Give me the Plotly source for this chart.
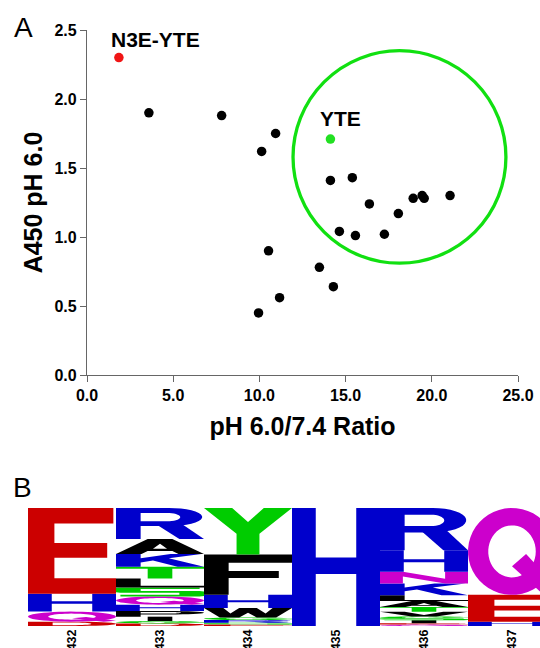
import numpy as np
import plotly.graph_objects as go

# ---------------- Panel A data ----------------
ratio_black = [3.59, 7.81, 10.13, 10.94, 10.53, 11.17, 9.95, 13.48, 14.29,
               14.12, 15.39, 14.64, 15.57, 16.38, 17.25, 18.06, 18.92, 19.44, 19.56, 21.06]
a450_black = [1.90, 1.88, 1.62, 1.75, 0.90, 0.56, 0.45, 0.78, 0.64,
              1.41, 1.43, 1.04, 1.01, 1.24, 1.02, 1.17, 1.28, 1.30, 1.28, 1.30]
ratio_n3e = [1.85]
a450_n3e = [2.30]
ratio_yte = [14.12]
a450_yte = [1.71]
label_names = ["N3E-YTE", "YTE"]
label_x = [4.0, 14.7]
label_y = [2.43, 1.86]
circle_x = [11.95, 24.3]
circle_y = [0.81, 2.35]

x_ticks = [0, 5, 10, 15, 20, 25]
y_ticks = [0, 0.5, 1.0, 1.5, 2.0, 2.5]

# ---------------- Panel B data (sequence logo, bottom -> top) ----------------
positions = [432, 433, 434, 435, 436, 437]
col432_letters = ["D", "Q", "H", "E"]
col432_probs = [0.037, 0.085, 0.152, 0.726]
col433_letters = ["D", "G", "I", "P", "H", "Q", "S", "L", "T", "K", "A", "R"]
col433_probs = [0.022, 0.020, 0.037, 0.048, 0.054, 0.070, 0.076, 0.076, 0.100, 0.107, 0.127, 0.263]
col434_letters = ["E", "S", "R", "G", "W", "H", "F", "Y"]
col434_probs = [0.012, 0.016, 0.022, 0.023, 0.079, 0.113, 0.340, 0.395]
col435_letters = ["H"]
col435_probs = [1.0]
col436_letters = ["Q", "E", "I", "S", "G", "V", "T", "A", "L", "K", "N", "H", "R"]
col436_probs = [0.012, 0.012, 0.025, 0.016, 0.016, 0.040, 0.040, 0.050, 0.050, 0.099, 0.099, 0.184, 0.357]
col437_letters = ["H", "E", "Q"]
col437_probs = [0.037, 0.227, 0.736]

columns = [
    (positions[0], col432_letters, col432_probs),
    (positions[1], col433_letters, col433_probs),
    (positions[2], col434_letters, col434_probs),
    (positions[3], col435_letters, col435_probs),
    (positions[4], col436_letters, col436_probs),
    (positions[5], col437_letters, col437_probs),
]

LETTER_COLORS = {}
for c in "DE":
    LETTER_COLORS[c] = "#cc0000"
for c in "KRH":
    LETTER_COLORS[c] = "#0000cc"
for c in "NQ":
    LETTER_COLORS[c] = "#cc00cc"
for c in "GSTYC":
    LETTER_COLORS[c] = "#00cc00"
for c in "AVLIPWFM":
    LETTER_COLORS[c] = "#000000"


# ---------------- glyph outlines in a unit box ----------------
def ell(cx, cy, rx, ry, a0, a1, n=18):
    t = np.radians(np.linspace(a0, a1, n))
    return [(cx + rx * np.cos(a), cy + ry * np.sin(a)) for a in t]


GLYPHS = {
    "E": [[[(0, 0), (1, 0), (1, .18), (.3, .18), (.3, .42), (.9, .42), (.9, .59), (.3, .59),
            (.3, .82), (.97, .82), (.97, 1), (0, 1)]]],
    "H": [[[(0, 0), (.27, 0), (.27, .44), (.73, .44), (.73, 0), (1, 0), (1, 1), (.73, 1),
            (.73, .58), (.27, .58), (.27, 1), (0, 1)]]],
    "F": [[[(0, 0), (.28, 0), (.28, .42), (.85, .42), (.85, .59), (.28, .59), (.28, .8),
            (1, .8), (1, 1), (0, 1)]]],
    "T": [[[(.36, 0), (.64, 0), (.64, .82), (1, .82), (1, 1), (0, 1), (0, .82), (.36, .82)]]],
    "L": [[[(0, 0), (1, 0), (1, .18), (.28, .18), (.28, 1), (0, 1)]]],
    "I": [[[(.36, 0), (.64, 0), (.64, 1), (.36, 1)]]],
    "Y": [[[(.37, 0), (.63, 0), (.63, .45), (1, 1), (.68, 1), (.5, .7), (.32, 1), (0, 1), (.37, .45)]]],
    "K": [[[(0, 0), (.28, 0), (.28, .33), (.42, .48), (.7, 0), (1, 0), (.6, .66), (.97, 1),
            (.62, 1), (.28, .66), (.28, 1), (0, 1)]]],
    "N": [[[(0, 0), (.26, 0), (.26, .6), (.74, 0), (1, 0), (1, 1), (.74, 1), (.74, .4), (.26, 1), (0, 1)]]],
    "A": [[[(0, 0), (.29, 0), (.36, .2), (.64, .2), (.71, 0), (1, 0), (.64, 1), (.36, 1)],
           [(.42, .36), (.58, .36), (.5, .68)]]],
    "W": [[[(0, 1), (.18, 0), (.4, 0), (.5, .5), (.6, 0), (.82, 0), (1, 1), (.78, 1), (.7, .42),
            (.6, 1), (.4, 1), (.3, .42), (.22, 1)]]],
    "V": [[[(0, 1), (.36, 0), (.64, 0), (1, 1), (.72, 1), (.5, .32), (.28, 1)]]],
    "M": [[[(0, 0), (.24, 0), (.24, .65), (.42, 0), (.58, 0), (.76, .65), (.76, 0), (1, 0), (1, 1),
            (.68, 1), (.5, .38), (.32, 1), (0, 1)]]],
    "S": [[[(.05, 0), (.95, 0), (1, .05), (1, .55), (.95, .6), (.28, .6), (.28, .82), (.95, .82),
            (.95, 1), (.05, 1), (0, .95), (0, .45), (.05, .4), (.72, .4), (.72, .18), (.05, .18)]]],
    "R": [[[(0, 0), (.28, 0), (.28, .42), (.6, .42)] + ell(.6, .71, .38, .29, -90, 90) + [(0, 1)],
           [(.28, .57), (.58, .57)] + ell(.58, .705, .15, .135, -90, 90) + [(.28, .84)]],
          [[(.46, .47), (.72, 0), (1, 0), (.74, .5)]]],
    "P": [[[(0, 0), (.28, 0), (.28, .4), (.62, .4)] + ell(.62, .7, .38, .3, -90, 90) + [(0, 1)],
           [(.28, .56), (.6, .56)] + ell(.6, .7, .14, .14, -90, 90) + [(.28, .84)]]],
    "D": [[[(0, 0), (.52, 0)] + ell(.52, .5, .48, .5, -90, 90) + [(0, 1)],
           [(.28, .18), (.5, .18)] + ell(.5, .5, .22, .32, -90, 90) + [(.28, .82)]]],
    "Q": [[ell(.5, .5, .5, .5, 0, 360, 48), ell(.5, .5, .27, .3, 0, 360, 48)],
          [[(.5, .33), (.66, .47), (1, .1), (.86, 0)]]],
    "G": [[ell(.5, .5, .5, .5, 25, 335, 30) + ell(.5, .5, .25, .28, 335, 25, 30)],
          [[(.55, .32), (1, .32), (1, .5), (.55, .5)]]],
}

shapes = []
for pos, letters, probs in columns:
    y0 = 0.0
    for letter, p in zip(letters, probs):
        for rings in GLYPHS[letter]:
            path = ""
            for ring in rings:
                pts = [(pos - 0.5 + gx, y0 + gy * p) for gx, gy in ring]
                path += "M" + "L".join(f"{x:.4f},{y:.5f}" for x, y in pts) + "Z"
            shapes.append(dict(type="path", path=path, xref="x2", yref="y2",
                               fillcolor=LETTER_COLORS[letter], line=dict(width=0),
                               fillrule="evenodd", layer="above"))
        y0 += p

shapes.append(dict(type="circle", xref="x", yref="y",
                   x0=circle_x[0], x1=circle_x[1], y0=circle_y[0], y1=circle_y[1],
                   line=dict(color="#11e011", width=3.3), fillcolor="rgba(0,0,0,0)"))

FONT = "Liberation Sans, Arial, sans-serif"

fig = go.Figure()
fig.add_trace(go.Scatter(x=ratio_black, y=a450_black, mode="markers",
                         marker=dict(color="black", size=9.5), xaxis="x", yaxis="y",
                         showlegend=False))
fig.add_trace(go.Scatter(x=ratio_n3e, y=a450_n3e, mode="markers",
                         marker=dict(color="#f01515", size=9.5), xaxis="x", yaxis="y",
                         showlegend=False))
fig.add_trace(go.Scatter(x=ratio_yte, y=a450_yte, mode="markers",
                         marker=dict(color="#22e022", size=9.5), xaxis="x", yaxis="y",
                         showlegend=False))
fig.add_trace(go.Scatter(x=positions, y=[0.5] * len(positions), mode="markers",
                         marker=dict(opacity=0), xaxis="x2", yaxis="y2",
                         showlegend=False, hoverinfo="skip"))

annotations = [
    dict(text="<b>" + label_names[0] + "</b>", x=label_x[0], y=label_y[0], xref="x", yref="y",
         showarrow=False, font=dict(family=FONT, size=21, color="black")),
    dict(text="<b>" + label_names[1] + "</b>", x=label_x[1], y=label_y[1], xref="x", yref="y",
         showarrow=False, font=dict(family=FONT, size=21, color="black")),
    dict(text="A", x=23 / 540, y=1 - 28 / 648, xref="paper", yref="paper",
         xanchor="center", yanchor="middle",
         showarrow=False, font=dict(family=FONT, size=28, color="black")),
    dict(text="B", x=22 / 540, y=1 - 487 / 648, xref="paper", yref="paper",
         xanchor="center", yanchor="middle",
         showarrow=False, font=dict(family=FONT, size=28, color="black")),
]

fig.update_layout(
    width=540, height=648,
    margin=dict(l=0, r=0, t=0, b=0),
    paper_bgcolor="white", plot_bgcolor="white",
    font=dict(family=FONT, color="black"),
    showlegend=False,
    xaxis=dict(domain=[87 / 540, 518 / 540], range=[0, 25], anchor="y",
               tickvals=x_ticks, ticktext=[f"<b>{v:.1f}</b>" for v in x_ticks],
               showline=True, linecolor="#666666", linewidth=1.3,
               ticks="outside", ticklen=6, tickcolor="#666666", tickwidth=1.3,
               showgrid=False, zeroline=False, tickfont=dict(size=16),
               title=dict(text="<b>pH 6.0/7.4 Ratio</b>", font=dict(size=25), standoff=14),
               automargin=False),
    yaxis=dict(domain=[1 - 375 / 648, 1 - 30 / 648], range=[0, 2.5], anchor="x",
               tickvals=y_ticks, ticktext=[f"<b>{v:.1f}</b>" for v in y_ticks],
               showline=True, linecolor="#666666", linewidth=1.3,
               ticks="outside", ticklen=6, tickcolor="#666666", tickwidth=1.3,
               showgrid=False, zeroline=False, tickfont=dict(size=16),
               title=dict(text="<b>A450 pH 6.0</b>", font=dict(size=25), standoff=4),
               automargin=False),
    xaxis2=dict(domain=[28 / 540, 1.0], range=[431.5, 431.5 + 512 / 88], anchor="y2",
                tickvals=positions, ticktext=[f"<b>{p}</b>" for p in positions],
                tickangle=-90, ticks="", showline=False, showgrid=False, zeroline=False,
                tickfont=dict(size=12.5), automargin=False),
    yaxis2=dict(domain=[1 - 626 / 648, 1 - 508 / 648], range=[0, 1], anchor="x2",
                visible=False),
    shapes=shapes,
    annotations=annotations,
)

fig.write_html(
    "out.html",
    config={"displayModeBar": False},
    post_script="document.body.style.margin='0';document.body.style.padding='0';"
                "document.body.style.overflow='hidden';",
)
